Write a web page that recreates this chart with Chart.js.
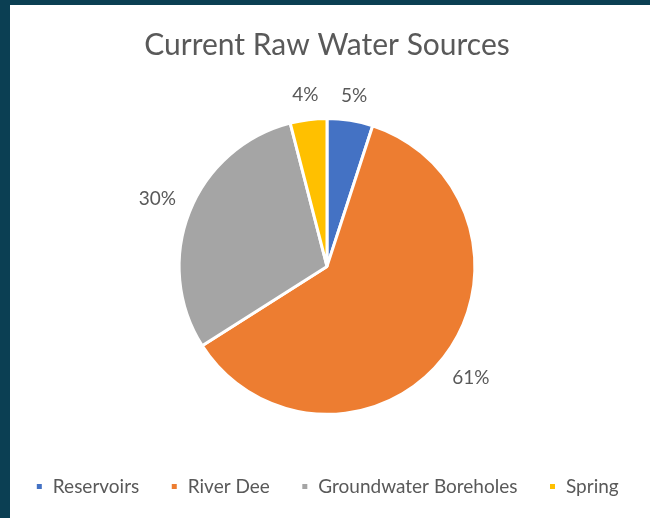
<!DOCTYPE html>
<html>
<head>
<meta charset="utf-8">
<script src="https://cdn.jsdelivr.net/npm/chart.js@4.4.1/dist/chart.umd.min.js"></script>
<style>
  html, body { margin: 0; padding: 0; }
  body { width: 650px; height: 518px; background: #0b3f53; position: relative; overflow: hidden; }
  #panel { position: absolute; left: 10px; top: 5px; width: 640px; height: 513px; background: #fff; }
  #myChart { position: absolute; left: 2px; top: 5px; }
</style>
</head>
<body>
<div id="panel"></div>
<canvas id="myChart" width="650" height="513"></canvas>
<script>
// pie data
const sources = ["Reservoirs", "River Dee", "Groundwater Boreholes", "Spring"];
const shares = [5, 61, 30, 4];
const sliceColors = ["#4472C4", "#ED7D31", "#A5A5A5", "#FFC000"];

const textGrey = "#595959";
const fontName = "Lato";

// draws the % labels just outside each slice
const outsideLabels = {
  id: "outsideLabels",
  afterDatasetsDraw(chart) {
    const ctx = chart.ctx;
    const meta = chart.getDatasetMeta(0);
    const total = shares.reduce((a, b) => a + b, 0);
    ctx.save();
    ctx.font = "19px " + fontName;
    ctx.fillStyle = textGrey;
    ctx.textAlign = "center";
    ctx.textBaseline = "middle";
    meta.data.forEach((arc, i) => {
      const p = arc.getProps(["x", "y", "startAngle", "endAngle", "outerRadius"], true);
      const mid = (p.startAngle + p.endAngle) / 2;
      const txt = Math.round(shares[i] / total * 100) + "%";
      const w = ctx.measureText(txt).width;
      const cos = Math.cos(mid), sin = Math.sin(mid);
      // push the text box out so its edge sits a fixed gap from the rim
      const ext = Math.abs(cos) * w / 2 + Math.abs(sin) * 9;
      const d = p.outerRadius + 14 + ext;
      ctx.fillText(txt, p.x + cos * d, p.y + sin * d);
    });
    ctx.restore();
  }
};

new Chart("myChart", {
  type: "pie",
  data: {
    labels: sources,
    datasets: [
      {
        data: shares,
        backgroundColor: sliceColors,
        borderColor: "#ffffff",
        borderWidth: 3,
      },
    ],
  },
  options: {
    responsive: false,
    animation: false,
    layout: { padding: { left: 0, right: 0, top: 0, bottom: 12 } },
    plugins: {
      title: {
        display: true,
        text: "Current Raw Water Sources",
        color: textGrey,
        font: { family: fontName, size: 30, weight: "normal" },
        padding: { top: 22, bottom: 54 },
      },
      legend: {
        position: "bottom",
        title: {
          display: true,
          text: " ",
          font: { size: 1 },
          padding: { top: 0, bottom: 29 },
        },
        labels: {
          color: textGrey,
          font: { family: fontName, size: 19 },
          usePointStyle: true,
          pointStyle: "rect",
          boxWidth: 8,
          boxHeight: 8,
          padding: 31,
        },
      },
      tooltip: { enabled: false },
    },
  },
  plugins: [outsideLabels],
});
</script>
</body>
</html>
